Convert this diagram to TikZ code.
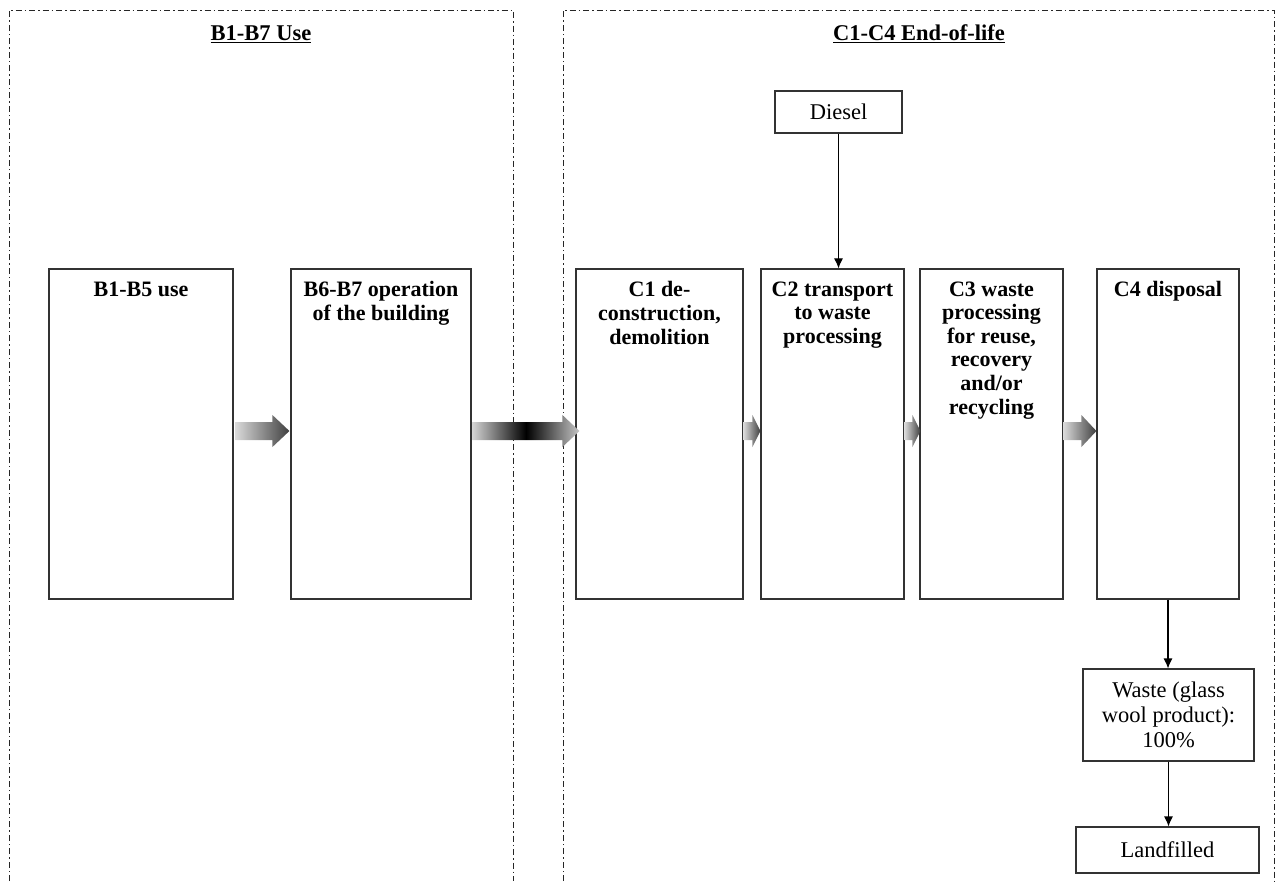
\documentclass[tikz,border=0pt]{standalone}
\usepackage{fontspec}
\setmainfont{Liberation Serif}
\usetikzlibrary{arrows.meta,calc}
\newcommand\blockarrow[4]{%
  \shade[#4] let \p1=(#1), \p2=(#2) in
    ({\x1},{\y1+9pt}) -- ({\x2-#3},{\y1+9pt}) -- ({\x2-#3},{\y1+16pt}) -- ({\x2},{\y1})
    -- ({\x2-#3},{\y1-16pt}) -- ({\x2-#3},{\y1-9pt}) -- ({\x1},{\y1-9pt}) -- cycle;}
\tikzset{
  panel/.style={draw=black!85, line width=1pt, dash pattern=on 6pt off 3pt on 1.5pt off 3pt},
  stage/.style={draw=black!80, line width=1.2pt, minimum height=330pt, inner sep=0pt},
  stagetext/.style={anchor=north, inner sep=0pt, yshift=-13pt, align=center,
    font=\fontsize{22}{23.6}\selectfont\bfseries},
  plain/.style={draw=black!80, line width=1.1pt, inner sep=0pt, align=center,
    font=\fontsize{22.5}{25}\selectfont},
  title/.style={font=\fontsize{22.5}{24}\selectfont\bfseries, inner sep=0pt},
  flow/.style={line width=1.1pt, -{Latex[length=10pt,width=9pt]}},
  grad/.style={left color=gray!30, right color=black!75},
}
\begin{document}
\begin{tikzpicture}[x=1pt,y=-1pt]
\useasboundingbox (0,0) rectangle (1276,881);
% panels
\draw[panel] (9,881) -- (9,10) -- (513,10) -- (513,881);
\draw[panel] (563,881) -- (563,10) -- (1274,10) -- (1274,881);
\node[title] (t1) at (261,34) {\underline{B1-B7 Use}};
\node[title] (t2) at (919,34) {\underline{C1-C4 End-of-life}};
% stages
\node[stage, minimum width=184pt] (b1) at (141,434) {};
\node[stagetext] (b1t) at (b1.north) {B1-B5 use};
\node[stage, minimum width=180pt] (b6) at (381,434) {};
\node[stagetext] (b6t) at (b6.north) {B6-B7 operation\\of the building};
\node[stage, minimum width=167pt] (c1) at (659.5,434) {};
\node[stagetext] (c1t) at (c1.north) {C1 de-\\construction,\\demolition};
\node[stage, minimum width=143pt] (c2) at (832.5,434) {};
\node[stagetext] (c2t) at (c2.north) {C2 transport\\to waste\\processing};
\node[stage, minimum width=143pt] (c3) at (991.5,434) {};
\node[stagetext] (c3t) at (c3.north) {C3 waste\\processing\\for reuse,\\recovery\\and/or\\recycling};
\node[stage, minimum width=142pt] (c4) at (1168,434) {};
\node[stagetext] (c4t) at (c4.north) {C4 disposal};
% other boxes
\node[plain, minimum width=127pt, minimum height=42pt] (diesel) at (838.5,112) {Diesel};
\node[plain, minimum width=171pt, minimum height=92pt] (waste) at (1168.5,715) {Waste (glass\\wool product):\\100\%};
\node[plain, minimum width=183pt, minimum height=46pt] (land) at (1167.5,850) {Landfilled};
% line connectors
\draw[flow] (diesel.south) -- (diesel.south|-c2.north);
\draw[flow] (c4.south) -- (c4.south|-waste.north);
\draw[flow] (waste.south) -- (waste.south|-land.north);
% block arrows
\coordinate (m) at (0,431);
\blockarrow{$(b1.east|-m)+(2,0)$}{$(b6.west|-m)+(-1,0)$}{17pt}{grad}
\blockarrow{$(b6.east|-m)+(1,0)$}{$(c1.west|-m)+(4,0)$}{17pt}{left color=gray!35,right color=gray!45,middle color=black}
\blockarrow{$(c1.east|-m)$}{$(c2.west|-m)$}{8pt}{grad}
\blockarrow{$(c2.east|-m)$}{$(c3.west|-m)+(1,0)$}{8pt}{grad}
\blockarrow{$(c3.east|-m)$}{$(c4.west|-m)$}{15pt}{grad}
\end{tikzpicture}
\end{document}
